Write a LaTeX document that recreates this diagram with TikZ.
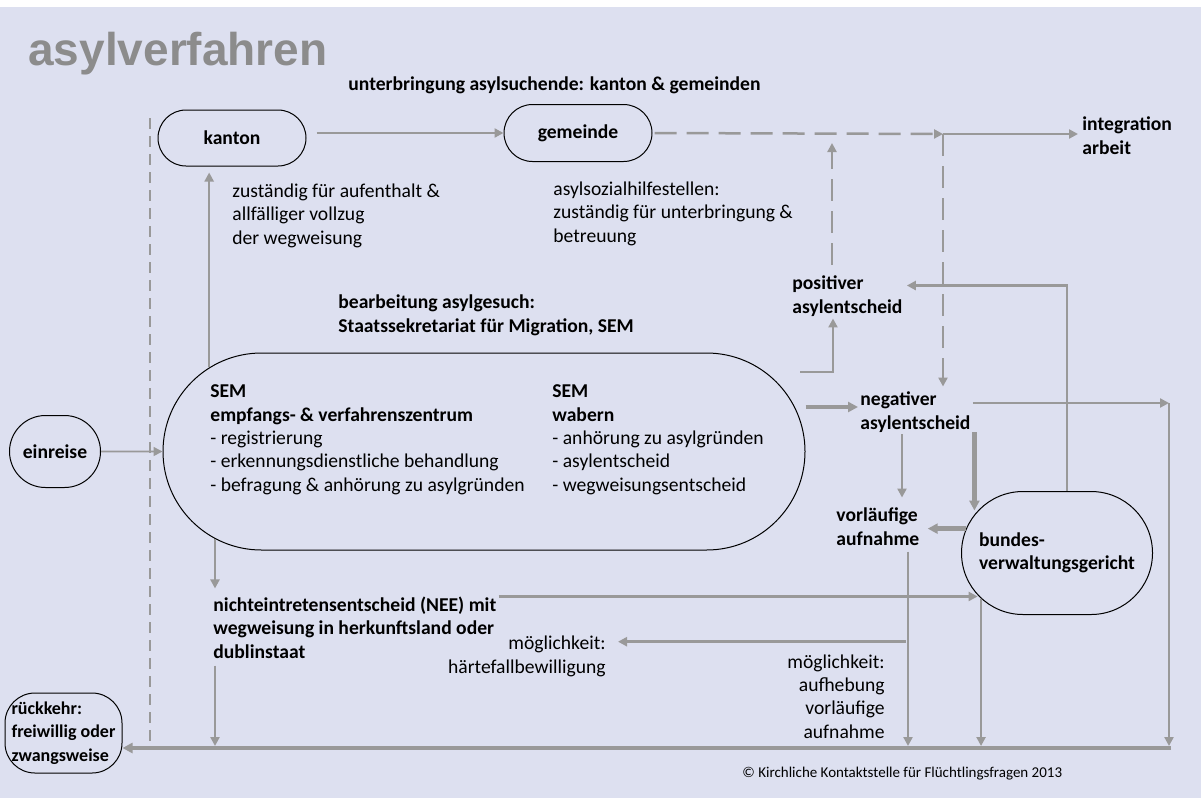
\documentclass[tikz,border=0pt]{standalone}
\usepackage{fontspec}
\setmainfont{Carlito}
\newfontfamily\titlefont{Liberation Sans}
\usetikzlibrary{shapes.misc,arrows.meta}

\definecolor{bglavender}{RGB}{221,224,240}
\definecolor{arrowgray}{RGB}{153,153,153}
\definecolor{titlegray}{RGB}{140,140,140}
\newcommand{\bodysize}{\fontsize{9.8}{11.65}\selectfont}

\begin{document}
\begin{tikzpicture}[x=0.5pt,y=-0.5pt,font=\bodysize]

    \tikzset{
      pill/.style={
        draw=black,
        line width=0.5pt,
        rounded rectangle,
        inner sep=0pt,
        align=left,
        font=\bodysize\bfseries,
      },
      textnote/.style={
        anchor=base west,
        inner sep=0pt,
        align=left,
        font=\bodysize,
      },
      boldnote/.style={
        textnote,
        font=\bodysize\bfseries,
      },
      flow/.style={
        draw=arrowgray,
        line width=1.25pt,
        -{Triangle[length=4.5pt,width=4.5pt]},
      },
      heavyflow/.style={
        flow,
        line width=2.2pt,
        -{Triangle[length=5pt,width=5pt]},
      },
      dashflow/.style={
        flow,
        dash pattern=on 11pt off 5pt,
      },
    }
    \useasboundingbox (0,0) rectangle (1203,798);
    \fill[white] (0,0) rectangle (1203,798);
    \fill[bglavender] (0,7) rectangle (1201,798);
    \draw[arrowgray, line width=1.25pt, dash pattern=on 5.5pt off 3.5pt] (150,118) -- (150,745);

    \node[textnote, font=\titlefont\fontsize{23}{27}\selectfont\bfseries, text=titlegray] (title) at (28,65) {asylverfahren};
    \node[boldnote] (unterbringung) at (348,90) {unterbringung asylsuchende: kanton \& gemeinden};
    \node[pill, minimum width=74pt, minimum height=28pt] (kanton) at (232,138) {kanton};
    \node[pill, minimum width=74pt, minimum height=28.5pt] (gemeinde) at (578,133) {gemeinde};
    \node[textnote] (kantontask) at (232,244) {zuständig für aufenthalt \&\\allfälliger vollzug\\der wegweisung};
    \node[textnote] (gemeindetask) at (553,242) {asylsozialhilfestellen:\\zuständig für unterbringung \&\\betreuung};
    \node[boldnote] (bearbeitung) at (338,332) {bearbeitung asylgesuch:\\Staatssekretariat für Migration, SEM};
    \node[pill, minimum width=321pt, minimum height=98.5pt] (sem) at (484,451.5) {};
    \node[textnote] (emptext) at (210,491) {\textbf{SEM}\\\textbf{empfangs- \& verfahrenszentrum}\\- registrierung\\- erkennungsdienstliche behandlung\\- befragung \& anhörung zu asylgründen};
    \node[textnote] (wabtext) at (552,491) {\textbf{SEM}\\\textbf{wabern}\\- anhörung zu asylgründen\\- asylentscheid\\- wegweisungsentscheid};
    \node[pill, minimum width=45.5pt, minimum height=36pt] (einreise) at (55,451.5) {einreise};
    \node[pill, rectangle, rounded corners=15pt, minimum width=58.5pt, minimum height=40pt, font=\fontsize{9}{11.65}\selectfont\bfseries] (rueckkehr) at (63.5,733) {rückkehr:\\freiwillig oder\\zwangsweise};
    \node[pill, minimum width=95.5pt, minimum height=61.5pt] (bvger) at (1057,553) {bundes-\\verwaltungsgericht};
    \node[boldnote] (positiver) at (792,313) {positiver\\asylentscheid};
    \node[boldnote] (negativer) at (860,429) {negativer\\asylentscheid};
    \node[boldnote] (vorlauf) at (836,545) {vorläufige\\aufnahme};
    \node[boldnote] (integration) at (1082,154) {integration\\arbeit};
    \node[boldnote] (nee) at (213,658) {nichteintretensentscheid (NEE) mit\\wegweisung in herkunftsland oder\\dublinstaat};
    \node[textnote, anchor=base east, align=right] (haerte) at (606,673) {möglichkeit:\\härtefallbewilligung};
    \node[textnote, anchor=base east, align=right] (aufhebung) at (885,738) {möglichkeit:\\aufhebung\\vorläufige\\aufnahme};
    \node[textnote, font=\fontsize{7.5}{9}\selectfont] (copyright) at (742,777) {© Kirchliche Kontaktstelle für Flüchtlingsfragen 2013};

    \coordinate (jtop) at (943,134);
    \coordinate (jright) at (1169,403);
    \coordinate (jbottom) at (1171,748);
    \coordinate (posroot) at (800,372);

    \draw[flow] ([xshift=5pt]kanton.east |- gemeinde.west) -- (gemeinde.west);
    \draw[dashflow] ([xshift=1pt]gemeinde.east) -- (jtop);
    \draw[flow] (jtop) -- ([xshift=-2pt]integration.west |- jtop);
    \draw[dashflow] (jtop) -- ([yshift=2.5pt]jtop |- negativer.north);
    \draw[dashflow] ([xshift=20pt,yshift=5.5pt]positiver.north west) -- ([xshift=20pt,yshift=-4.5pt]positiver.north west |- jtop);
    \draw[flow] (posroot) -| ([xshift=20.5pt,yshift=-1pt]positiver.south west);
    \draw[heavyflow] ([yshift=2.5pt]sem.east |- negativer.west) -- ([xshift=-1pt,yshift=2.5pt]negativer.west);
    \draw[flow] ([xshift=1pt]negativer.east |- jright) -- (jright);
    \draw[flow, shorten >=1pt] (jright) -- (jright |- jbottom);
    \draw[heavyflow] (jbottom) -- (rueckkehr.east |- jbottom);
    \draw[flow] ([xshift=21pt,yshift=-1pt]negativer.south west) -- ([xshift=21pt,yshift=5pt]negativer.south west |- vorlauf.north);
    \draw[heavyflow, shorten >=2pt] (negativer.south -| bvger.155) -- (bvger.155);
    \draw[heavyflow] (bvger.165) -- ([xshift=4pt]bvger.165 -| vorlauf.east);
    \draw[flow] (bvger.81) |- ([xshift=2pt,yshift=-5pt]positiver.north east);
    \draw[flow, shorten >=1pt] ([xshift=36pt,yshift=-3pt]vorlauf.south west) -- ([xshift=36pt]vorlauf.south west |- jbottom);
    \draw[flow] ([xshift=35pt,yshift=-3pt]vorlauf.south west |- haerte.north east) -- ([xshift=6pt,yshift=-3pt]haerte.north east);
    \draw[flow] ([xshift=1pt]nee.north east) -- (nee.north east -| bvger.208);
    \draw[flow, shorten >=1pt] (bvger.211) -- (bvger.211 |- jbottom);
    \draw[flow] (sem.163) -- ([yshift=-3pt]sem.163 |- kanton.south);
    \draw[flow] (sem.198) -- ([yshift=4pt]sem.198 |- nee.north);
    \draw[flow, shorten >=1pt] ([yshift=-3.5pt]sem.198 |- nee.south) -- (sem.198 |- jbottom);
    \draw[flow, line width=0.8pt] (einreise) -- (sem.west);

\end{tikzpicture}
\end{document}
